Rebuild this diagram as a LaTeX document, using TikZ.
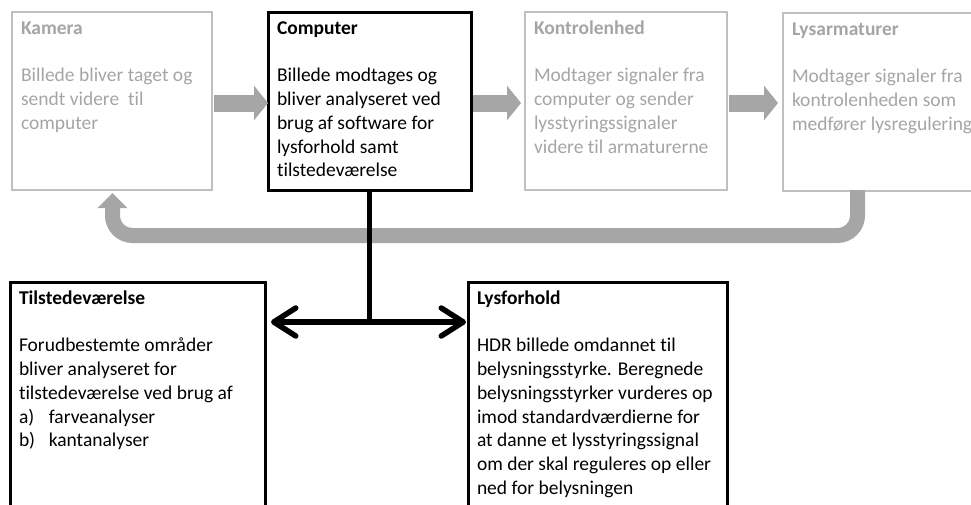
\documentclass[tikz,border=0pt]{standalone}
\usepackage{fontspec}
\setmainfont[Ligatures={NoCommon}]{Carlito}
\usetikzlibrary{arrows.meta}
\definecolor{boxgray}{RGB}{192,192,192}
\definecolor{txtgray}{RGB}{165,165,165}
\definecolor{arrgray}{RGB}{166,166,166}
\tikzset{
  box/.style 2 args={line width=2.5pt, anchor=north west, outer sep=0pt,
    inner xsep=9pt, inner ysep=6pt,
    font=\fontsize{19.5}{23.7}\selectfont,
    execute at begin node={\begin{minipage}[t][#2][t]{#1}\raggedright},
    execute at end node={\end{minipage}}},
  graybox/.style={draw=boxgray, text=txtgray},
  blackbox/.style={draw=black, text=black, line width=3pt},
  blockarrow/.style={draw=arrgray, line width=17pt, -{Triangle[length=14pt,width=34pt]}},
  retarrow/.style={draw=arrgray, line width=15pt, rounded corners=20pt, -{Triangle[length=15pt,width=29pt]}},
  conn/.style={draw=black, line width=5.5pt},
  barb/.style={-{Straight Barb[length=22pt,width=28pt,round]}},
}
\begin{document}
\begin{tikzpicture}[x=1pt,y=-1pt]
\useasboundingbox (0,0) rectangle (971,504);
\clip (0,0) rectangle (971,504);
\node[box={182pt}{166pt}, graybox] (kam) at (12,12)
  {\strut\textbf{Kamera}\\[23.7pt]
   Billede bliver taget og\\ sendt videre\ \ til\\ computer};
\node[box={185pt}{166pt}, blackbox] (comp) at (268,12)
  {\strut\textbf{Computer}\\[23.7pt]
   Billede modtages og\\ bliver analyseret ved\\ brug af software for\\ lysforhold samt\\ tilstedeværelse};
\node[box={184pt}{166pt}, graybox] (kon) at (525,12)
  {\strut\textbf{Kontrolenhed}\\[23.7pt]
   Modtager signaler fra\\ computer og sender\\ lysstyringssignaler\\ videre til armaturerne};
\node[box={210pt}{166pt}, graybox] (lys) at (783,13)
  {\strut\textbf{Lysarmaturer}\\[23.7pt]
   Modtager signaler fra\\ kontrolenheden som\\ medfører lysregulering};
\node[box={237pt}{260pt}, blackbox] (til) at (10,282)
  {\strut\textbf{Tilstedeværelse}\\[23.7pt]
   Forudbestemte områder\\ bliver analyseret for\\ tilstedeværelse ved brug af\\
   a)\hspace{0.75em}farveanalyser\\ b)\hspace{0.7em}kantanalyser};
\node[box={241pt}{260pt}, blackbox] (lf) at (468,282)
  {\strut\textbf{Lysforhold}\\[23.7pt]
   HDR billede omdannet til\\ belysningsstyrke. Beregnede\\ belysningsstyrker vurderes op\\
   imod standardværdierne for\\ at danne et lysstyringssignal\\ om der skal reguleres op eller\\ ned for belysningen};
% block arrows
\draw[blockarrow, shorten <=2pt] (kam.east |- 0,103) -- (comp.west |- 0,103);
\draw[blockarrow, shorten <=2pt, shorten >=4pt] (comp.east |- 0,103) -- (kon.west |- 0,103);
\draw[blockarrow, shorten <=2pt, shorten >=5pt] (kon.east |- 0,103) -- (lys.west |- 0,103);
% return arrow
\coordinate (rs) at (857.5,190);
\coordinate (rm) at (500,235.5);
\coordinate (re) at (112.5,193);
\draw[retarrow] (rs) |- (rm) -| (re);
% black connector
\coordinate (j) at (comp.south |- 0,322);
\draw[conn] (comp.south) -- (j);
\draw[conn, barb, shorten >=6pt] (j) -- (til.east |- j);
\draw[conn, barb, shorten >=2pt] (j) -- (lf.west |- j);
\end{tikzpicture}
\end{document}
